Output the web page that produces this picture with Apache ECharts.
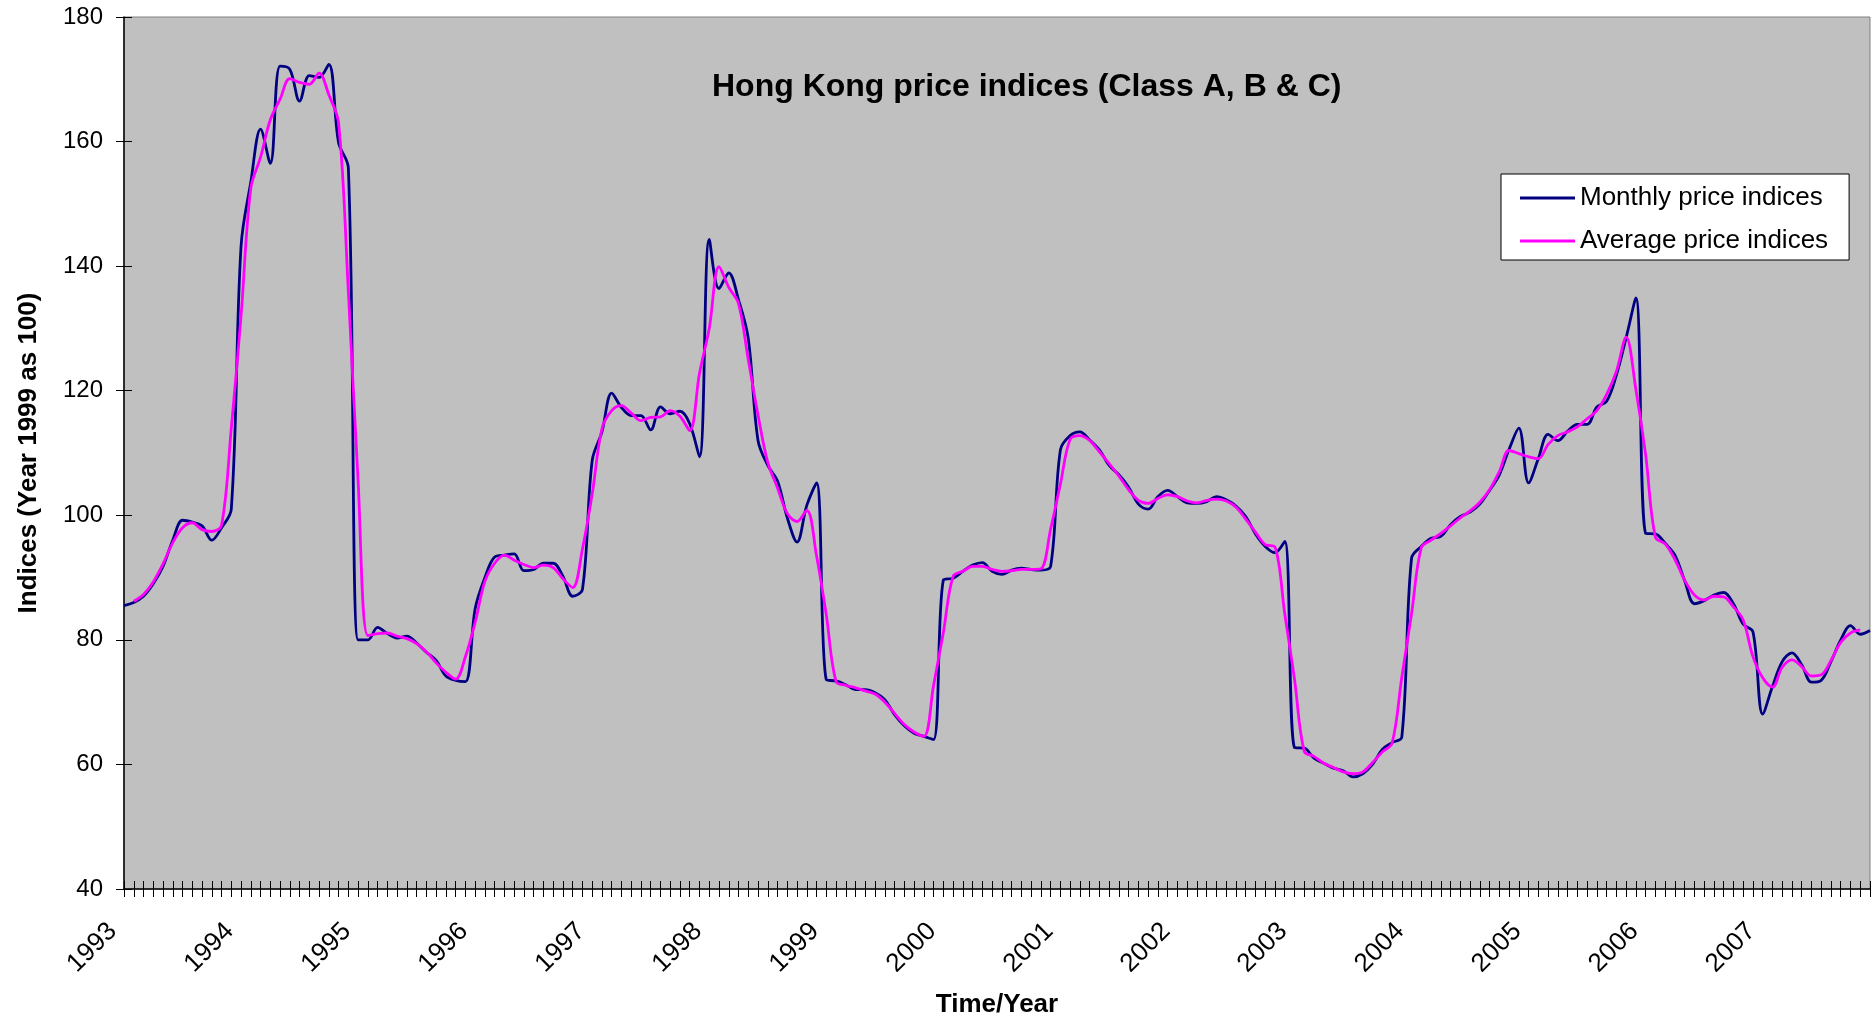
<!DOCTYPE html>
<html>
<head>
<meta charset="utf-8">
<script src="https://cdn.jsdelivr.net/npm/echarts@6/dist/echarts.min.js"></script>
<style>
html,body{margin:0;padding:0;background:#fff;}
#chart{width:1876px;height:1019px;}
</style>
</head>
<body>
<div id="chart"></div>
<script>
const chartTitle = 'Hong Kong price indices (Class A, B & C)';
const xAxisTitle = 'Time/Year';
const yAxisTitle = 'Indices (Year 1999 as 100)';
const seriesNames = ['Monthly price indices', 'Average price indices'];
const years = ['1993','1994','1995','1996','1997','1998','1999','2000','2001','2002','2003','2004','2005','2006','2007'];
const monthNums = ['01','02','03','04','05','06','07','08','09','10','11','12'];
const yTicks = { min: 40, max: 180, step: 20 };

const monthly = [
  85.5, 86.0, 87.0, 89.0, 91.8, 96.0, 99.2, 98.9, 98.3, 96.0, 98.0, 101.0,
  143.2, 153.5, 162.0, 156.5, 172.1, 171.6, 166.5, 170.6, 170.3, 172.4, 159.8, 155.8,
  80.0, 80.0, 82.0, 81.0, 80.3, 80.6, 79.5, 78.0, 76.7, 74.2, 73.5, 73.3,
  85.0, 90.0, 93.3, 93.6, 93.8, 91.1, 91.3, 92.3, 92.3, 90.2, 87.0, 88.1,
  108.8, 113.4, 119.6, 117.3, 116.0, 116.0, 113.7, 117.4, 116.3, 116.7, 114.7, 109.4,
  144.3, 136.4, 138.9, 134.6, 128.4, 112.0, 108.0, 105.5, 99.6, 95.7, 101.6, 105.2,
  73.6, 73.4, 72.8, 72.0, 72.0, 71.5, 70.4, 68.0, 66.2, 65.0, 64.5, 64.0,
  89.6, 89.9, 91.0, 92.0, 92.4, 91.0, 90.5, 91.2, 91.5, 91.3, 91.2, 91.8,
  110.5, 112.8, 113.4, 112.1, 110.5, 108.0, 106.5, 104.5, 101.8, 101.0, 103.0, 104.0,
  103.0, 102.0, 101.9, 102.2, 103.0, 102.5, 101.5, 99.8, 97.0, 95.0, 94.0, 95.8,
  62.7, 62.6, 61.0, 60.2, 59.4, 59.0, 58.0, 58.5, 60.0, 62.4, 63.5, 64.4,
  93.1, 95.0, 96.3, 96.6, 98.5, 99.8, 100.5, 101.8, 104.0, 106.5, 110.6, 114.0,
  105.2, 109.1, 113.0, 112.0, 113.5, 114.6, 114.6, 117.4, 118.3, 122.5, 128.5, 134.9,
  97.1, 97.0, 95.5, 93.6, 89.5, 85.8, 86.3, 87.2, 87.6, 85.8, 82.5, 81.3,
  68.1, 72.5, 76.5, 77.9, 76.0, 73.2, 73.5, 76.5, 80.0, 82.3, 80.9, 81.5
];

const average = [
  null, 86.2, 87.3, 89.3, 92.2, 95.6, 98.0, 98.8, 97.7, 97.4, 98.4, 114.0,
  132.0, 152.5, 157.5, 163.5, 166.8, 170.1, 169.5, 169.2, 171.0, 167.5, 163.0, 136.0,
  105.5, 80.7, 81.0, 81.1, 80.6, 80.2, 79.4, 78.1, 76.3, 74.8, 73.7, 77.3,
  82.8, 89.4, 92.3, 93.6, 92.8, 92.1, 91.6, 92.0, 91.6, 89.8, 88.4, 94.6,
  103.4, 113.9, 116.8, 117.6, 116.4, 115.2, 115.7, 115.8, 116.8, 115.9, 113.6, 122.8,
  130.0, 139.9, 136.6, 134.0, 125.0, 116.1, 108.5, 104.4, 100.3, 99.0, 100.8, 93.5,
  84.0, 73.3, 72.7, 72.3, 71.8, 71.3, 70.0, 68.2, 66.4, 65.2, 64.5, 72.7,
  81.2, 90.2, 91.0, 91.8, 91.8, 91.3, 91.0, 91.1, 91.3, 91.3, 91.4, 97.8,
  105.0, 112.2, 112.8, 112.0, 110.2, 108.3, 106.3, 104.1, 102.4, 101.9, 102.7, 103.3,
  103.0, 102.3, 102.0, 102.4, 102.6, 102.3, 101.3, 99.4, 97.3, 95.3, 94.9, 84.2,
  73.7, 62.1, 61.3, 60.2, 59.5, 58.8, 58.5, 58.8, 60.3, 62.0, 63.4, 74.0,
  84.2, 94.8, 96.0, 97.1, 98.3, 99.6, 100.7, 102.1, 104.1, 107.0, 110.4, 109.9,
  109.4, 109.1, 111.4, 112.8, 113.4, 114.2, 115.5, 116.8, 119.4, 123.1, 128.6, 120.2,
  109.7, 96.5, 95.4, 92.9, 89.6, 87.2, 86.4, 87.0, 86.9, 85.3, 83.2, 77.3,
  73.9, 72.4, 75.6, 76.8, 75.7, 74.2, 74.4, 76.7, 79.6, 81.1, 81.6, null
];

const categories = [];
years.forEach(function (y) { monthNums.forEach(function (m) { categories.push(y + '-' + m); }); });

const FONT = '"Liberation Sans", Arial, sans-serif';
const chart = echarts.init(document.getElementById('chart'), null, { renderer: 'canvas' });

const xBase = {
  type: 'category',
  data: categories,
  boundaryGap: false,
  gridIndex: 0,
  position: 'bottom'
};
const yBase = {
  type: 'value',
  min: yTicks.min,
  max: yTicks.max,
  interval: yTicks.step,
  gridIndex: 0,
  position: 'left'
};

chart.setOption({
  animation: false,
  backgroundColor: '#ffffff',
  title: {
    text: chartTitle,
    left: 712,
    top: 71,
    padding: 0,
    textStyle: { fontFamily: FONT, fontSize: 32, fontWeight: 'bold', color: '#000' }
  },
  legend: {
    orient: 'vertical',
    left: 1501,
    top: 174,
    padding: [11, 21, 6, 19],
    itemGap: 17,
    itemWidth: 55,
    itemHeight: 3,
    icon: 'rect',
    backgroundColor: '#ffffff',
    borderColor: '#000000',
    borderWidth: 1,
    borderRadius: 0,
    selectedMode: false,
    textStyle: { fontFamily: FONT, fontSize: 26, color: '#000', lineHeight: 26 },
    data: seriesNames
  },
  grid: {
    left: 124,
    top: 17,
    width: 1746,
    height: 872,
    show: true,
    backgroundColor: '#C0C0C0',
    borderColor: '#808080',
    borderWidth: 1,
    containLabel: false,
    outerBoundsMode: 'none'
  },
  xAxis: [
    Object.assign({}, xBase, {
      name: xAxisTitle,
      nameLocation: 'middle',
      nameGap: 103,
      nameTextStyle: { fontFamily: FONT, fontSize: 26, fontWeight: 'bold', color: '#000' },
      axisLine: { show: true, lineStyle: { color: '#000', width: 1.5 } },
      axisTick: { show: true, inside: false, length: 8, interval: 0, lineStyle: { color: '#000', width: 1 } },
      axisLabel: {
        show: true,
        interval: function (idx) { return idx % 12 === 0; },
        formatter: function (val) { return val.slice(0, 4); },
        rotate: 45,
        margin: 27,
        padding: [0, 16, 0, 0],
        fontFamily: FONT,
        fontSize: 26,
        color: '#000',
        hideOverlap: false
      },
      splitLine: { show: false }
    }),
    Object.assign({}, xBase, {
      axisLine: { show: false },
      axisTick: { show: true, inside: true, length: 8, interval: 0, lineStyle: { color: '#000', width: 1 } },
      axisLabel: { show: false },
      splitLine: { show: false }
    })
  ],
  yAxis: [
    Object.assign({}, yBase, {
      name: yAxisTitle,
      nameLocation: 'middle',
      nameGap: 82,
      nameTextStyle: { fontFamily: FONT, fontSize: 26, fontWeight: 'bold', color: '#000' },
      axisLine: { show: true, lineStyle: { color: '#000', width: 1.5 } },
      axisTick: { show: true, inside: false, length: 8, lineStyle: { color: '#000', width: 1 } },
      axisLabel: { show: true, margin: 21, fontFamily: FONT, fontSize: 24, color: '#000', showMinLabel: true, showMaxLabel: true },
      splitLine: { show: false }
    }),
    Object.assign({}, yBase, {
      axisLine: { show: false },
      axisTick: { show: true, inside: true, length: 8, lineStyle: { color: '#000', width: 1 } },
      axisLabel: { show: false },
      splitLine: { show: false }
    })
  ],
  series: [
    {
      name: seriesNames[0],
      type: 'line',
      xAxisIndex: 0,
      yAxisIndex: 0,
      data: monthly,
      smooth: 0.35,
      symbol: 'none',
      lineStyle: { color: '#000080', width: 2.8 },
      itemStyle: { color: '#000080' },
      z: 2
    },
    {
      name: seriesNames[1],
      type: 'line',
      xAxisIndex: 0,
      yAxisIndex: 0,
      data: average,
      smooth: 0.35,
      symbol: 'none',
      connectNulls: false,
      lineStyle: { color: '#FF00FF', width: 2.8 },
      itemStyle: { color: '#FF00FF' },
      z: 3
    }
  ]
});
</script>
</body>
</html>
